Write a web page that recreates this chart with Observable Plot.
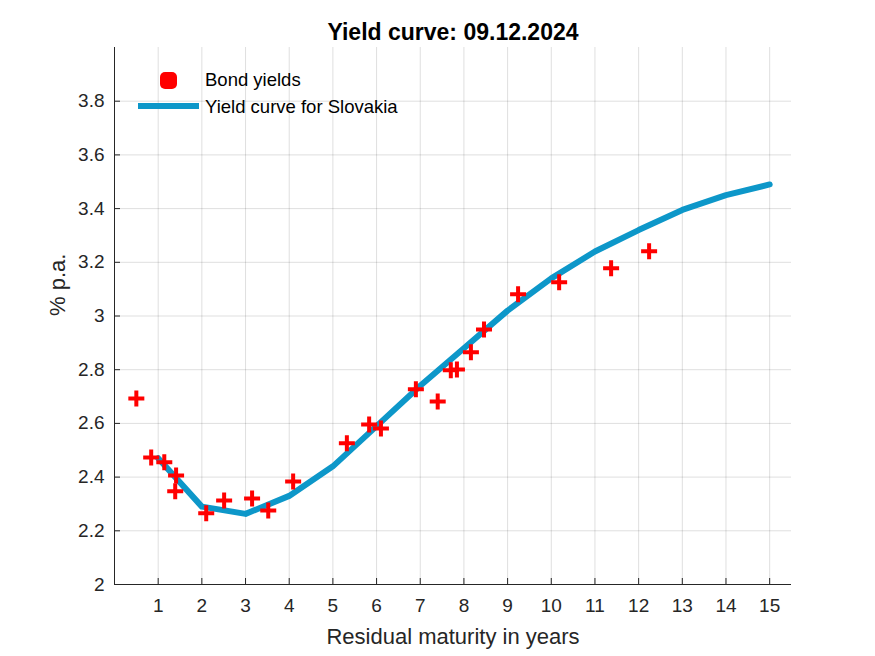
<!DOCTYPE html>
<html>
<head>
<meta charset="utf-8">
<script src="https://cdn.jsdelivr.net/npm/d3@7"></script>
<script src="https://cdn.jsdelivr.net/npm/@observablehq/plot@0.6"></script>
<style>
  html, body { margin: 0; padding: 0; background: #fff; }
  #chart { width: 875px; height: 656px; }
</style>
</head>
<body>
<div id="chart"></div>
<script>
// Bond yields (residual maturity in years, % p.a.)
const bondMaturity = [0.50, 0.84, 1.14, 1.41, 1.39, 2.10, 2.51, 3.15, 3.52, 4.09, 5.32, 5.83, 6.10, 6.90, 7.40, 7.70, 7.84, 8.16, 8.46, 9.24, 10.18, 11.37, 12.24];
const bondYield    = [2.693, 2.473, 2.455, 2.406, 2.347, 2.265, 2.313, 2.320, 2.276, 2.384, 2.526, 2.596, 2.581, 2.727, 2.682, 2.798, 2.801, 2.865, 2.950, 3.081, 3.126, 3.178, 3.241];

// Yield curve for Slovakia
const curveMaturity = [1, 2, 3, 4, 5, 6, 7, 8, 9, 10, 11, 12, 13, 14, 15];
const curveYield    = [2.47, 2.29, 2.263, 2.33, 2.44, 2.59, 2.74, 2.88, 3.02, 3.14, 3.24, 3.32, 3.395, 3.45, 3.49];

const xTicks = [1, 2, 3, 4, 5, 6, 7, 8, 9, 10, 11, 12, 13, 14, 15];
const yTicks = [2, 2.2, 2.4, 2.6, 2.8, 3, 3.2, 3.4, 3.6, 3.8];

const titleText = "Yield curve: 09.12.2024";
const xLabel = "Residual maturity in years";
const yLabel = "% p.a.";
const legendLabels = ["Bond yields", "Yield curve for Slovakia"];

const bonds = bondMaturity.map((m, i) => ({m, y: bondYield[i]}));
const curve = curveMaturity.map((m, i) => ({m, y: curveYield[i]}));

const RED = "#ff0000";
const BLUE = "#0d97c9";
const FONT = "'Liberation Sans', Arial, Helvetica, sans-serif";

const plusSymbol = {
  draw(ctx, size) {
    const r = Math.sqrt(size / Math.PI);
    ctx.moveTo(-r, 0); ctx.lineTo(r, 0);
    ctx.moveTo(0, -r); ctx.lineTo(0, r);
  }
};

const W = 875, H = 656;
const mL = 114, mR = 84, mT = 47, mB = 72;
const frameH = H - mT - mB;

const plot = Plot.plot({
  width: W,
  height: H,
  marginLeft: mL,
  marginRight: mR,
  marginTop: mT,
  marginBottom: mB,
  style: {fontFamily: FONT, fontSize: "19px", color: "#262626", background: "#fff"},
  x: {domain: [0, 15.5], ticks: xTicks},
  y: {domain: [2, 4], ticks: yTicks},
  marks: [
    Plot.gridX(xTicks, {stroke: "#000", strokeOpacity: 0.13}),
    Plot.gridY(yTicks, {stroke: "#000", strokeOpacity: 0.13}),
    Plot.tickX(xTicks, {x: d => d, insetTop: frameH - 6, stroke: "#262626"}),
    Plot.tickY(yTicks, {y: d => d, insetRight: (W - mL - mR) - 6, stroke: "#262626"}),
    Plot.axisX(xTicks, {tickSize: 0, tickPadding: 14, fontSize: 19, fill: "#262626", label: null}),
    Plot.axisY(yTicks, {tickSize: 0, tickPadding: 10, fontSize: 19, fill: "#262626", label: null,
      tickFormat: d => String(+d.toFixed(1))}),
    Plot.ruleX([0], {stroke: "#262626"}),
    Plot.ruleY([2], {stroke: "#262626"}),
    Plot.line(curve, {x: "m", y: "y", stroke: BLUE, strokeWidth: 6, strokeLinejoin: "round"}),
    Plot.dot(bonds, {x: "m", y: "y", symbol: plusSymbol, r: 8, stroke: RED, strokeWidth: 4, fill: "none"}),
    Plot.text([titleText], {frameAnchor: "top", dy: -15, fontSize: 23, fontWeight: "bold", fill: "#000", lineAnchor: "middle"}),
    Plot.text([xLabel], {frameAnchor: "bottom", dy: 52, fontSize: 22, fill: "#262626", lineAnchor: "middle"}),
    Plot.text([yLabel], {frameAnchor: "left", dx: -57, rotate: -90, fontSize: 22, fill: "#262626", lineAnchor: "middle"})
  ]
});

// Legend (top-left, no box)
const svg = d3.select(plot);
const lg = svg.append("g").attr("font-family", FONT).attr("font-size", 18.5).attr("fill", "#000").attr("text-anchor", "start");
lg.append("rect").attr("x", 160).attr("y", 72).attr("width", 17).attr("height", 17).attr("rx", 5).attr("fill", RED);
lg.append("line").attr("x1", 138).attr("x2", 199).attr("y1", 106).attr("y2", 106).attr("stroke", BLUE).attr("stroke-width", 6);
lg.append("text").attr("x", 205).attr("y", 80).attr("dy", "0.35em").text(legendLabels[0]);
lg.append("text").attr("x", 205).attr("y", 107).attr("dy", "0.35em").text(legendLabels[1]);

document.getElementById("chart").append(plot);
</script>
</body>
</html>
